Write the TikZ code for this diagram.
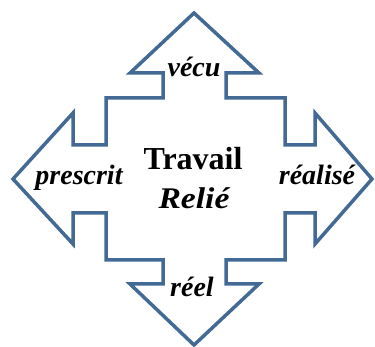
\documentclass[tikz,border=0pt]{standalone}
\usepackage{fontspec}
\setmainfont{Liberation Serif}
\usetikzlibrary{positioning}

\definecolor{arrowblue}{HTML}{426A94}

\begin{document}
\begin{tikzpicture}[
    x=1pt, y=-1pt,
    outline/.style={
        draw=arrowblue,
        line width=3.5pt,
        line join=miter
    },
    dirlabel/.style={
        anchor=base,
        inner sep=0pt,
        font=\fontsize{28}{30}\selectfont\bfseries\itshape
    },
    centrelabel/.style={
        anchor=base,
        inner sep=0pt,
        font=\fontsize{32}{34}\selectfont\bfseries
    }
]
    \useasboundingbox (0,0) rectangle (375,347);

    % --- QUAD ARROW OUTLINE ---
    \draw[outline] (194,13) -- (259,73) -- (226,73) -- (226,98) -- (285,98)
        -- (285,145) -- (315,145) -- (315,113) -- (372,179) -- (315,244)
        -- (315,213) -- (285,213) -- (285,260) -- (226,260) -- (226,284)
        -- (259,284) -- (194,345) -- (130,284) -- (163,284) -- (163,260)
        -- (106,260) -- (106,213) -- (73,213) -- (73,244) -- (13,179)
        -- (73,113) -- (73,145) -- (106,145) -- (106,98) -- (163,98)
        -- (163,73) -- (130,73) -- cycle;

    % --- CENTRE ---
    \node[centrelabel] (travail) at (193,170) {Travail};
    \node[centrelabel, font=\fontsize{30}{34}\selectfont\bfseries\itshape] (relie) at (194,209) {\scalebox{1.12}[1]{Relié}};

    % --- DIRECTIONS ---
    \node[dirlabel] (vecu) at (194,77) {vécu};
    \node[dirlabel] (reel) at (192,297) {réel};
    \node[dirlabel] (prescrit) at (79,185) {prescrit};
    \node[dirlabel] (realise) at (317,185) {réalisé};
\end{tikzpicture}
\end{document}
